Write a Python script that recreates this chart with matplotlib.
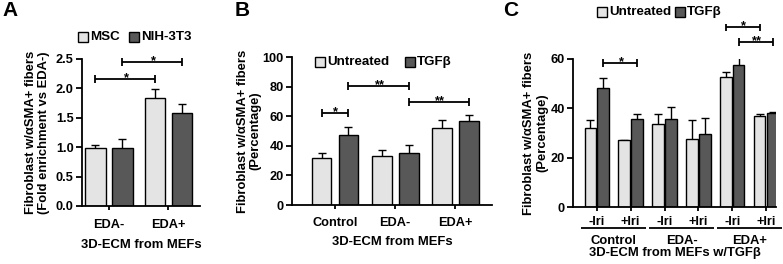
import matplotlib
matplotlib.use("Agg")
import matplotlib.pyplot as plt
import numpy as np
from matplotlib.patches import Rectangle
import matplotlib.transforms as mtransforms

plt.rcParams['font.family'] = ['Liberation Sans', 'DejaVu Sans']
plt.rcParams['font.weight'] = 'bold'
plt.rcParams['axes.linewidth'] = 1.3

LIGHT = '#e4e4e4'
DARK = '#585858'
FS = 9.4
TFS = 9.2

# ---------------- data ----------------
# Panel A
a_cats = ['EDA-', 'EDA+']
a_msc = [0.98, 1.83]
a_msc_err = [0.05, 0.15]
a_nih = [0.99, 1.58]
a_nih_err = [0.14, 0.15]
a_sig = [((0, 0), (1, 0), 2.15, '*'), ((0, 1), (1, 1), 2.44, '*')]

# Panel B
b_cats = ['Control', 'EDA-', 'EDA+']
b_unt = [32, 33, 52]
b_unt_err = [3.5, 4.5, 5.5]
b_tgf = [47.5, 35.5, 57]
b_tgf_err = [5.5, 5.0, 4.0]
b_sig = [((0, 0), (0, 1), 62.4, '*'), ((0, 1), (1, 1), 80.5, '**'), ((1, 1), (2, 1), 69.9, '**')]

# Panel C
c_ticks = ['-Iri', '+Iri', '-Iri', '+Iri', '-Iri', '+Iri']
c_groups = ['Control', 'EDA-', 'EDA+']
c_unt = [32, 27, 33.5, 27.5, 52.5, 37]
c_unt_err = [3.2, 0.3, 4.0, 7.7, 2.0, 0.8]
c_tgf = [48, 35.5, 35.5, 29.5, 57.5, 38]
c_tgf_err = [4.2, 2.2, 5.0, 6.5, 3.8, 0.4]
c_sig = [((0, 1), (1, 1), 58.1, '*'), ((4, 0), (5, 0), 72.6, '*'), ((4, 1), (5, 1), 66.6, '**')]

W, H = 783, 264
fig = plt.figure(figsize=(W / 100, H / 100), dpi=100)


def fig_ax(left, right, bottom, top):
    return fig.add_axes([left / W, 1 - bottom / H, (right - left) / W, (bottom - top) / H])


def draw_bars(ax, vals1, err1, vals2, err2, off, width, cap_units):
    x = np.arange(len(vals1))
    for xs, v, e, c in ((x - off, vals1, err1, LIGHT), (x + off, vals2, err2, DARK)):
        ax.bar(xs, v, width=width, color=c, edgecolor='black', linewidth=1.0, zorder=2)
        for xi, vi, ei in zip(xs, v, e):
            ax.plot([xi, xi], [vi, vi + ei], color='black', lw=1.0, zorder=1, solid_capstyle='butt')
            ax.plot([xi - cap_units, xi + cap_units], [vi + ei, vi + ei], color='black', lw=1.0,
                    zorder=1, solid_capstyle='butt')


def style_ax(ax, xpad):
    for s in ('top', 'right'):
        ax.spines[s].set_visible(False)
    ax.tick_params(axis='y', direction='out', length=4, width=1.3, labelsize=TFS, pad=2)
    ax.tick_params(axis='x', direction='out', length=3, width=1.3, labelsize=TFS, pad=xpad)
    for lab in ax.get_yticklabels() + ax.get_xticklabels():
        lab.set_fontweight('bold')


def sig(ax, x1, x2, y, label, dy):
    ax.plot([x1, x2], [y, y], color='black', lw=1.3, clip_on=False, solid_capstyle='butt')
    for xx in (x1, x2):
        ax.plot([xx, xx], [y - dy, y + dy], color='black', lw=1.3, clip_on=False, solid_capstyle='butt')
    ax.annotate(label, xy=((x1 + x2) / 2, y), xytext=(0, -1.5), textcoords='offset points',
                ha='center', va='baseline', fontsize=FS, fontweight='bold', annotation_clip=False)


def legend_item(xpix, ypix, color, text, size=10):
    fig.patches.append(Rectangle((xpix / W, 1 - (ypix + size / 2) / H), size / W, size / H,
                                 transform=fig.transFigure, facecolor=color, edgecolor='black', lw=1.0))
    fig.text((xpix + size + 2) / W, 1 - ypix / H, text, ha='left', va='center', fontsize=FS + 0.2,
             fontweight='bold')


# ---------------- Panel A ----------------
axA = fig_ax(82, 200, 206, 58.7)
offA, wA = 0.225, 0.345
draw_bars(axA, a_msc, a_msc_err, a_nih, a_nih_err, offA, wA, 4 / 60)
axA.set_xlim(-0.45, 1.53)
axA.set_ylim(0, 2.5)
axA.set_yticks([0, 0.5, 1.0, 1.5, 2.0, 2.5])
axA.set_yticklabels(['0.0', '0.5', '1.0', '1.5', '2.0', '2.5'])
axA.set_xticks(range(len(a_cats)))
axA.set_xticklabels(a_cats)
style_ax(axA, 6)
axA.set_xlabel('3D-ECM from MEFs', fontsize=FS, fontweight='bold', labelpad=6)
axA.set_ylabel('Fibroblast w/\u03b1SMA+ fibers\n(Fold enrichment vs EDA-)', fontsize=FS, fontweight='bold',
               labelpad=4, linespacing=1.1)
for (g1, s1), (g2, s2), y, lab in a_sig:
    sig(axA, g1 + (offA if s1 else -offA), g2 + (offA if s2 else -offA), y, lab, 0.068)
legend_item(78, 37, LIGHT, 'MSC')
legend_item(129, 37, DARK, 'NIH-3T3')
fig.text(2 / W, 1 - 11 / H, 'A', fontsize=15, fontweight='bold', va='center', ha='left')

# ---------------- Panel B ----------------
axB = fig_ax(292, 492, 205, 57.3)
offB, wB = 0.224, 0.33
draw_bars(axB, b_unt, b_unt_err, b_tgf, b_tgf_err, offB, wB, 4 / 60.4)
axB.set_xlim(-0.715, 2.61)
axB.set_ylim(0, 100)
axB.set_yticks([0, 20, 40, 60, 80, 100])
axB.set_xticks(range(len(b_cats)))
axB.set_xticklabels(b_cats)
style_ax(axB, 6)
axB.set_xlabel('3D-ECM from MEFs', fontsize=FS, fontweight='bold', labelpad=5)
axB.set_ylabel('Fibroblast w/\u03b1SMA+ fibers\n(Percentage)', fontsize=FS, fontweight='bold',
               labelpad=0.5, linespacing=1.1)
for (g1, s1), (g2, s2), y, lab in b_sig:
    sig(axB, g1 + (offB if s1 else -offB), g2 + (offB if s2 else -offB), y, lab, 2.7)
legend_item(315, 62, LIGHT, 'Untreated')
legend_item(405, 62, DARK, 'TGF\u03b2')
fig.text(235 / W, 1 - 11 / H, 'B', fontsize=15, fontweight='bold', va='center', ha='left')

# ---------------- Panel C ----------------
axC = fig_ax(573, 776, 207.3, 58.7)
offC, wC = 0.19, 0.34
draw_bars(axC, c_unt, c_unt_err, c_tgf, c_tgf_err, offC, wC, 4 / 33.9)
axC.set_xlim(-0.70, 5.29)
axC.set_ylim(0, 60)
axC.set_yticks([0, 20, 40, 60])
axC.set_xticks(range(len(c_ticks)))
axC.set_xticklabels(c_ticks)
style_ax(axC, 3)
axC.set_ylabel('Fibroblast w/\u03b1SMA+ fibers\n(Percentage)', fontsize=FS, fontweight='bold',
               labelpad=1.5, linespacing=1.1)
trC = mtransforms.blended_transform_factory(axC.transData, axC.transAxes)
for i, g in enumerate(c_groups):
    cx = 2 * i + 0.5
    axC.plot([cx - 0.96, cx + 0.96], [-0.137, -0.137], color='black', lw=1.3, transform=trC, clip_on=False,
             solid_capstyle='butt')
    axC.text(cx, -0.228, g, transform=trC, ha='center', va='center', fontsize=FS, fontweight='bold')
axC.text(0.5, -0.308, '3D-ECM from MEFs w/TGF\u03b2', transform=axC.transAxes, ha='center', va='center',
         fontsize=FS, fontweight='bold')
for (g1, s1), (g2, s2), y, lab in c_sig:
    sig(axC, g1 + (offC if s1 else -offC), g2 + (offC if s2 else -offC), y, lab, 1.6)
legend_item(597, 12, LIGHT, 'Untreated')
legend_item(675, 12, DARK, 'TGF\u03b2')
fig.text(503 / W, 1 - 11 / H, 'C', fontsize=15, fontweight='bold', va='center', ha='left')

fig.savefig('out.png', dpi=100)
